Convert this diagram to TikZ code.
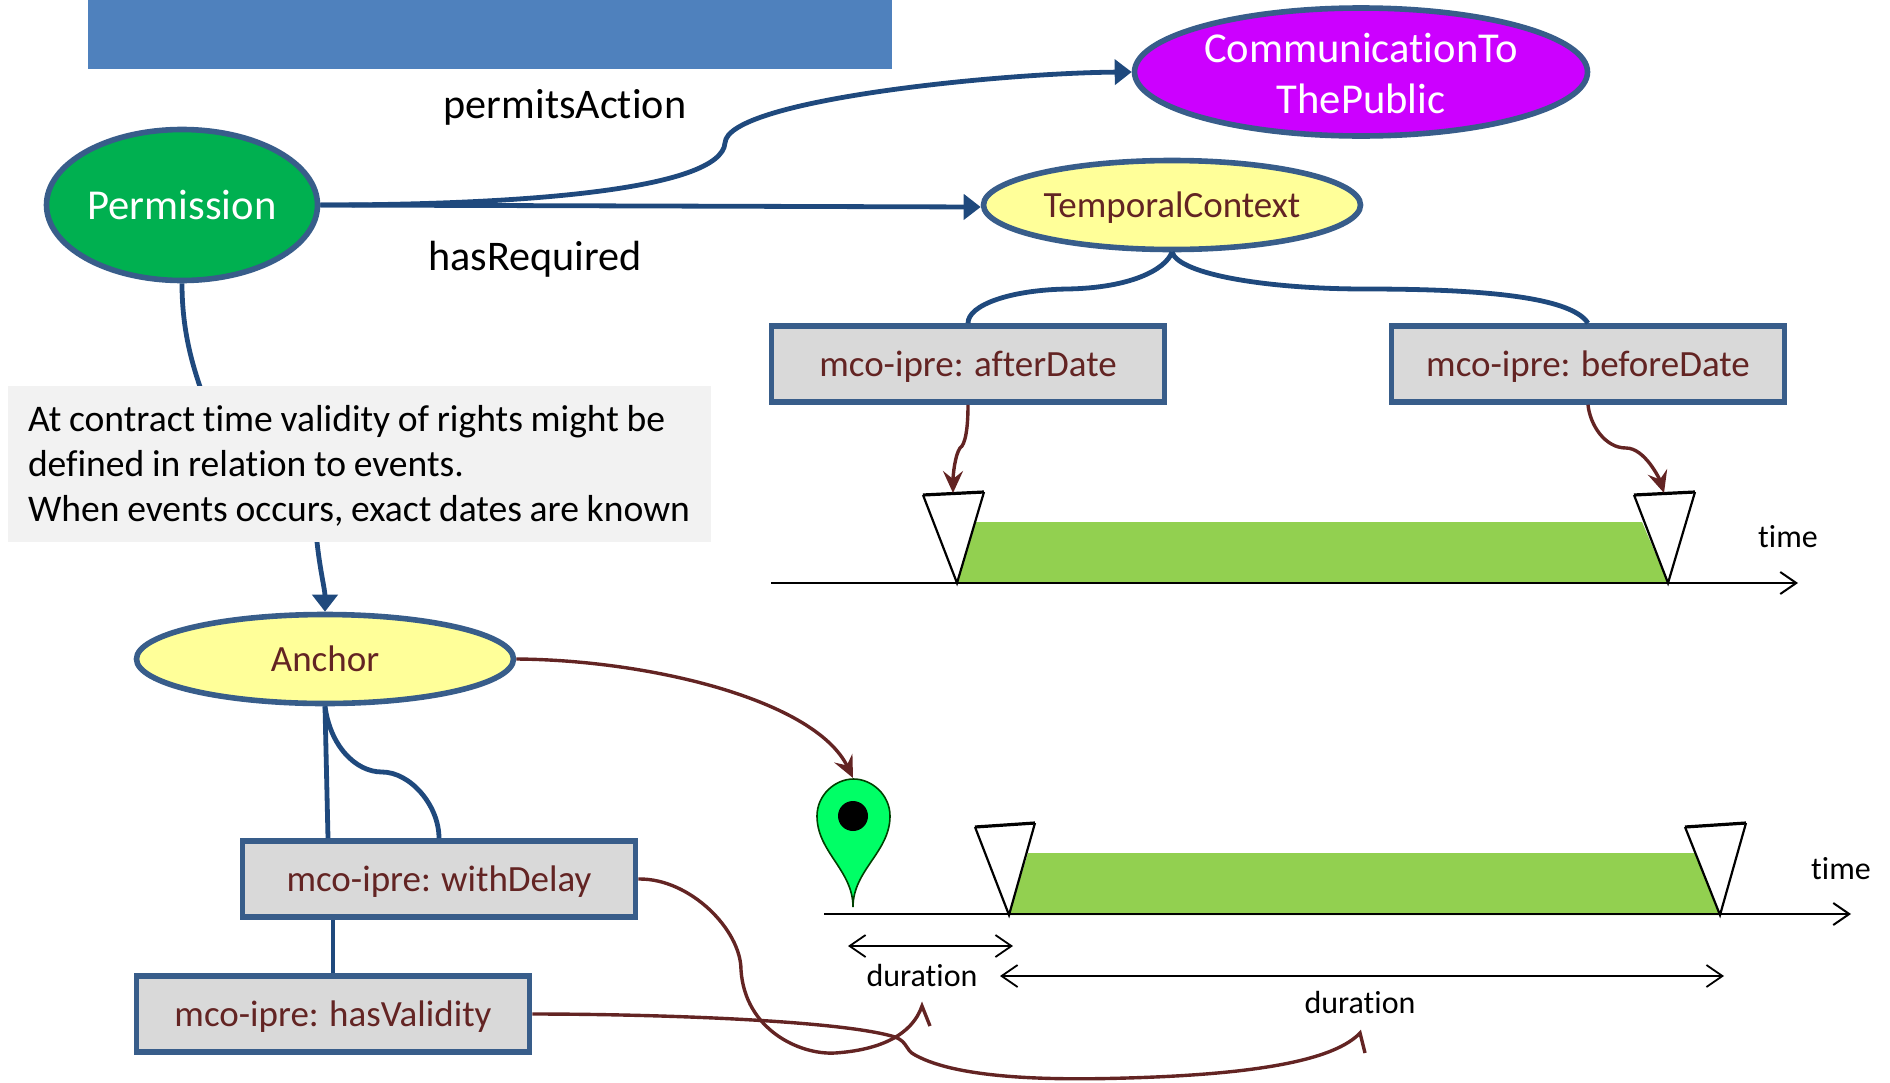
\documentclass[tikz,border=0pt]{standalone}
\usepackage{fontspec}
\setmainfont{Carlito}[Ligatures=NoCommon,WordSpace=0.9]
\usetikzlibrary{shapes.geometric,arrows.meta}
\definecolor{edgeblue}{HTML}{1F497D}
\definecolor{shapeline}{HTML}{385D8A}
\definecolor{wine}{HTML}{632423}
\definecolor{bandblue}{HTML}{4F81BD}
\definecolor{permgreen}{HTML}{00B050}
\definecolor{softyellow}{HTML}{FFFF99}
\definecolor{violetm}{HTML}{CC00FF}
\definecolor{boxgrey}{HTML}{D9D9D9}
\definecolor{notegrey}{HTML}{F2F2F2}
\definecolor{leaf}{HTML}{92D050}
\definecolor{pingreen}{HTML}{00FF66}
\newcommand{\zerow}[1]{\makebox[0pt]{#1}}
\tikzset{
  x=0.5pt,y=-0.5pt,
  oval/.style={ellipse,draw=shapeline,line width=2.8pt,inner sep=0pt},
  concept/.style={oval,fill=softyellow,minimum width=188.5pt,minimum height=44.5pt,text=wine,
    font=\fontsize{18.5}{23}\selectfont,text height=16.4pt,text depth=4pt},
  prop/.style={rectangle,draw=shapeline,line width=2.8pt,fill=boxgrey,inner sep=0pt,
    minimum width=196.5pt,minimum height=38pt,text=wine,font=\fontsize{18.5}{23}\selectfont,
    text height=16.4pt,text depth=4pt},
  blueline/.style={draw=edgeblue,line width=2.4pt},
  blueflow/.style={blueline,-{Triangle[length=8.5pt,width=12.5pt]}},
  wineline/.style={draw=wine,line width=1.7pt,line join=miter},
  wineflow/.style={wineline,-{Stealth[length=11pt,width=10pt,inset=4pt]}},
  lbl/.style={inner sep=0pt,font=\fontsize{21.1}{25}\selectfont},
  small/.style={inner sep=0pt,font=\fontsize{16}{19}\selectfont},
  axis/.style={draw=black,line width=1pt,-{Straight Barb[length=8pt,width=11pt]}},
  span/.style={draw=black,line width=0.9pt,{Straight Barb[length=8pt,width=11pt]}-{Straight Barb[length=8pt,width=11pt]}},
  stake/.style={draw=black,line width=1.1pt,line join=miter},
  staketop/.style={draw=black,line width=1.6pt},
}
\begin{document}
\begin{tikzpicture}
\useasboundingbox (0,0) rectangle (1890,1082);
\fill[bandblue] (88,0) rectangle (892,69);

% nodes
\node[oval,fill=permgreen,minimum width=135.5pt,minimum height=75.5pt,text=white,font=\fontsize{21.3}{25}\selectfont,text height=18.8pt,text depth=4pt] (perm) at (182,205) {\zerow{Permission}};
\node[oval,fill=violetm,minimum width=226.5pt,minimum height=64pt,text=white,font=\fontsize{21.3}{25.5}\selectfont] (comm) at (1361,72) {\zerow{\raisebox{-7.9pt}[0pt][0pt]{\begin{tabular}{@{}c@{}}CommunicationTo\\ThePublic\end{tabular}}}};
\node[concept] (temporal) at (1172,205) {\zerow{TemporalContext}};
\node[concept] (anchorE) at (325,659) {\zerow{Anchor}};
\node[prop] (after) at (968,364) {mco-ipre: afterDate};
\node[prop] (before) at (1588,364) {mco-ipre: beforeDate};
\node[prop] (delay) at (439,879) {mco-ipre: withDelay};
\node[prop] (valid) at (333,1014) {mco-ipre: hasValidity};
\node[lbl] (lbA) at (565,107) {permitsAction};
\node[lbl] (lbB) at (535,259) {hasRequired};

% timeline 1
\fill[leaf] (975,522) -- (1642,522) -- (1668,583) -- (957,583) -- cycle;
\coordinate (axAs) at (771,583);
\coordinate (axAe) at (1798,583);
\draw[axis] (axAs) -- (axAe);
\fill[white] (923,495) -- (957,583) -- (984,492) -- cycle;
\draw[stake] (923,495) -- (957,583) -- (984,492);
\draw[staketop] (923,495) -- (984,492);
\fill[white] (1634,495) -- (1668,583) -- (1695,492) -- cycle;
\draw[stake] (1634,495) -- (1668,583) -- (1695,492);
\draw[staketop] (1634,495) -- (1695,492);
\node[small] (timeA) at (1788,537) {time};
\coordinate (tipA) at (953,493);
\coordinate (tipB) at (1664,493);

% timeline 2
\fill[leaf] (1028,853) -- (1695,853) -- (1720,915) -- (1009,915) -- cycle;
\coordinate (axBs) at (824,914);
\coordinate (axBe) at (1851,914);
\draw[axis] (axBs) -- (axBe);
\fill[white] (975,827) -- (1009,915) -- (1035,823) -- cycle;
\draw[stake] (975,827) -- (1009,915) -- (1035,823);
\draw[staketop] (975,827) -- (1035,823);
\fill[white] (1685,827) -- (1720,915) -- (1746,823) -- cycle;
\draw[stake] (1685,827) -- (1720,915) -- (1746,823);
\draw[staketop] (1685,827) -- (1746,823);
\node[small] (timeB) at (1841,869) {time};

% pin
\draw[draw=black!75!green,line width=0.8pt,fill=pingreen]
  (853,907) .. controls (853,870) and (817,852) .. (817,816)
  .. controls (817,795) and (835,779) .. (853.5,779)
  .. controls (872,779) and (890,795) .. (890,816)
  .. controls (890,852) and (853,870) .. (853,907) -- cycle;
\fill[black] (853,816) circle[radius=15];
\coordinate (tipPin) at (853,778);

% durations
\coordinate (dAs) at (848,946);
\coordinate (dAe) at (1013,946);
\coordinate (dBs) at (1000,976);
\coordinate (dBe) at (1724,976);
\draw[span] (dAs) -- (dAe);
\draw[span] (dBs) -- (dBe);
\node[small] (durA) at (922,975) {duration};
\node[small] (durB) at (1360,1002) {duration};
\coordinate (tipDurA) at (922,1006);
\coordinate (barbDurA) at (930,1026);
\coordinate (tipDurB) at (1360,1033);
\coordinate (barbDurB) at (1365,1053);

% blue connectors
\draw[blueflow] (perm.east) -- ([yshift=-1pt]temporal.west);
\draw[blueflow] (perm.east) .. controls (520,205) and (721,190) .. (725,143)
  .. controls (727,100) and (1000,73) .. (comm.west);
\draw[blueline] (temporal.south) .. controls (1165,270) and (1130,288) .. (1067,289)
  .. controls (1010,290) and (968,305) .. (after.north);
\draw[blueline] (temporal.south) .. controls (1180,275) and (1270,289) .. (1365,289)
  .. controls (1470,289) and (1570,295) .. (before.north);
\draw[blueflow] (perm.south) .. controls (182,330) and (192,365) .. (204,398)
  .. controls (230,470) and (310,500) .. (317,542)
  .. controls (320,570) and (325,590) .. (anchorE.north);
\draw[blueline] (anchorE.south) -- ([xshift=1.5pt]anchorE.south |- delay.north);
\draw[blueline] (anchorE.south) .. controls (330,745) and (355,772) .. (382,772)
  .. controls (410,772) and (439,805) .. (delay.north);
\draw[blueline] (valid.north) -- (valid.north |- delay.south);

% note box above the connector
\node[rectangle,fill=notegrey,minimum width=351.5pt,minimum height=78pt,inner sep=0pt,
  font=\fontsize{18.8}{22.4}\selectfont] (note) at (359.5,464)
  {\raisebox{-5.3pt}[0pt][0pt]{\parbox{331.5pt}{\raggedright At contract time validity of rights might be\\defined in relation to events.\\When events occurs, exact dates are known}}};

% wine connectors
\draw[wineflow] (after.south) .. controls (968,430) and (965,445) .. (960,448)
  .. controls (955,455) and (953,475) .. (tipA);
\draw[wineflow] (before.south) .. controls (1590,425) and (1605,448) .. (1626,448)
  .. controls (1645,448) and (1660,480) .. (tipB);
\draw[wineflow] (anchorE.east) .. controls (650,660) and (815,700) .. (tipPin);
\draw[wineline] (delay.east) .. controls (690,878) and (741,930) .. (741,970)
  .. controls (745,1030) and (800,1055) .. (835,1053)
  .. controls (880,1050) and (912,1035) .. (tipDurA) -- (barbDurA);
\draw[wineline] (valid.east) .. controls (650,1014) and (840,1020) .. (895,1037)
  .. controls (908,1042) and (905,1050) .. (915,1055)
  .. controls (960,1080) and (1060,1080) .. (1127,1078)
  .. controls (1230,1075) and (1330,1065) .. (tipDurB) -- (barbDurB);
\end{tikzpicture}
\end{document}
